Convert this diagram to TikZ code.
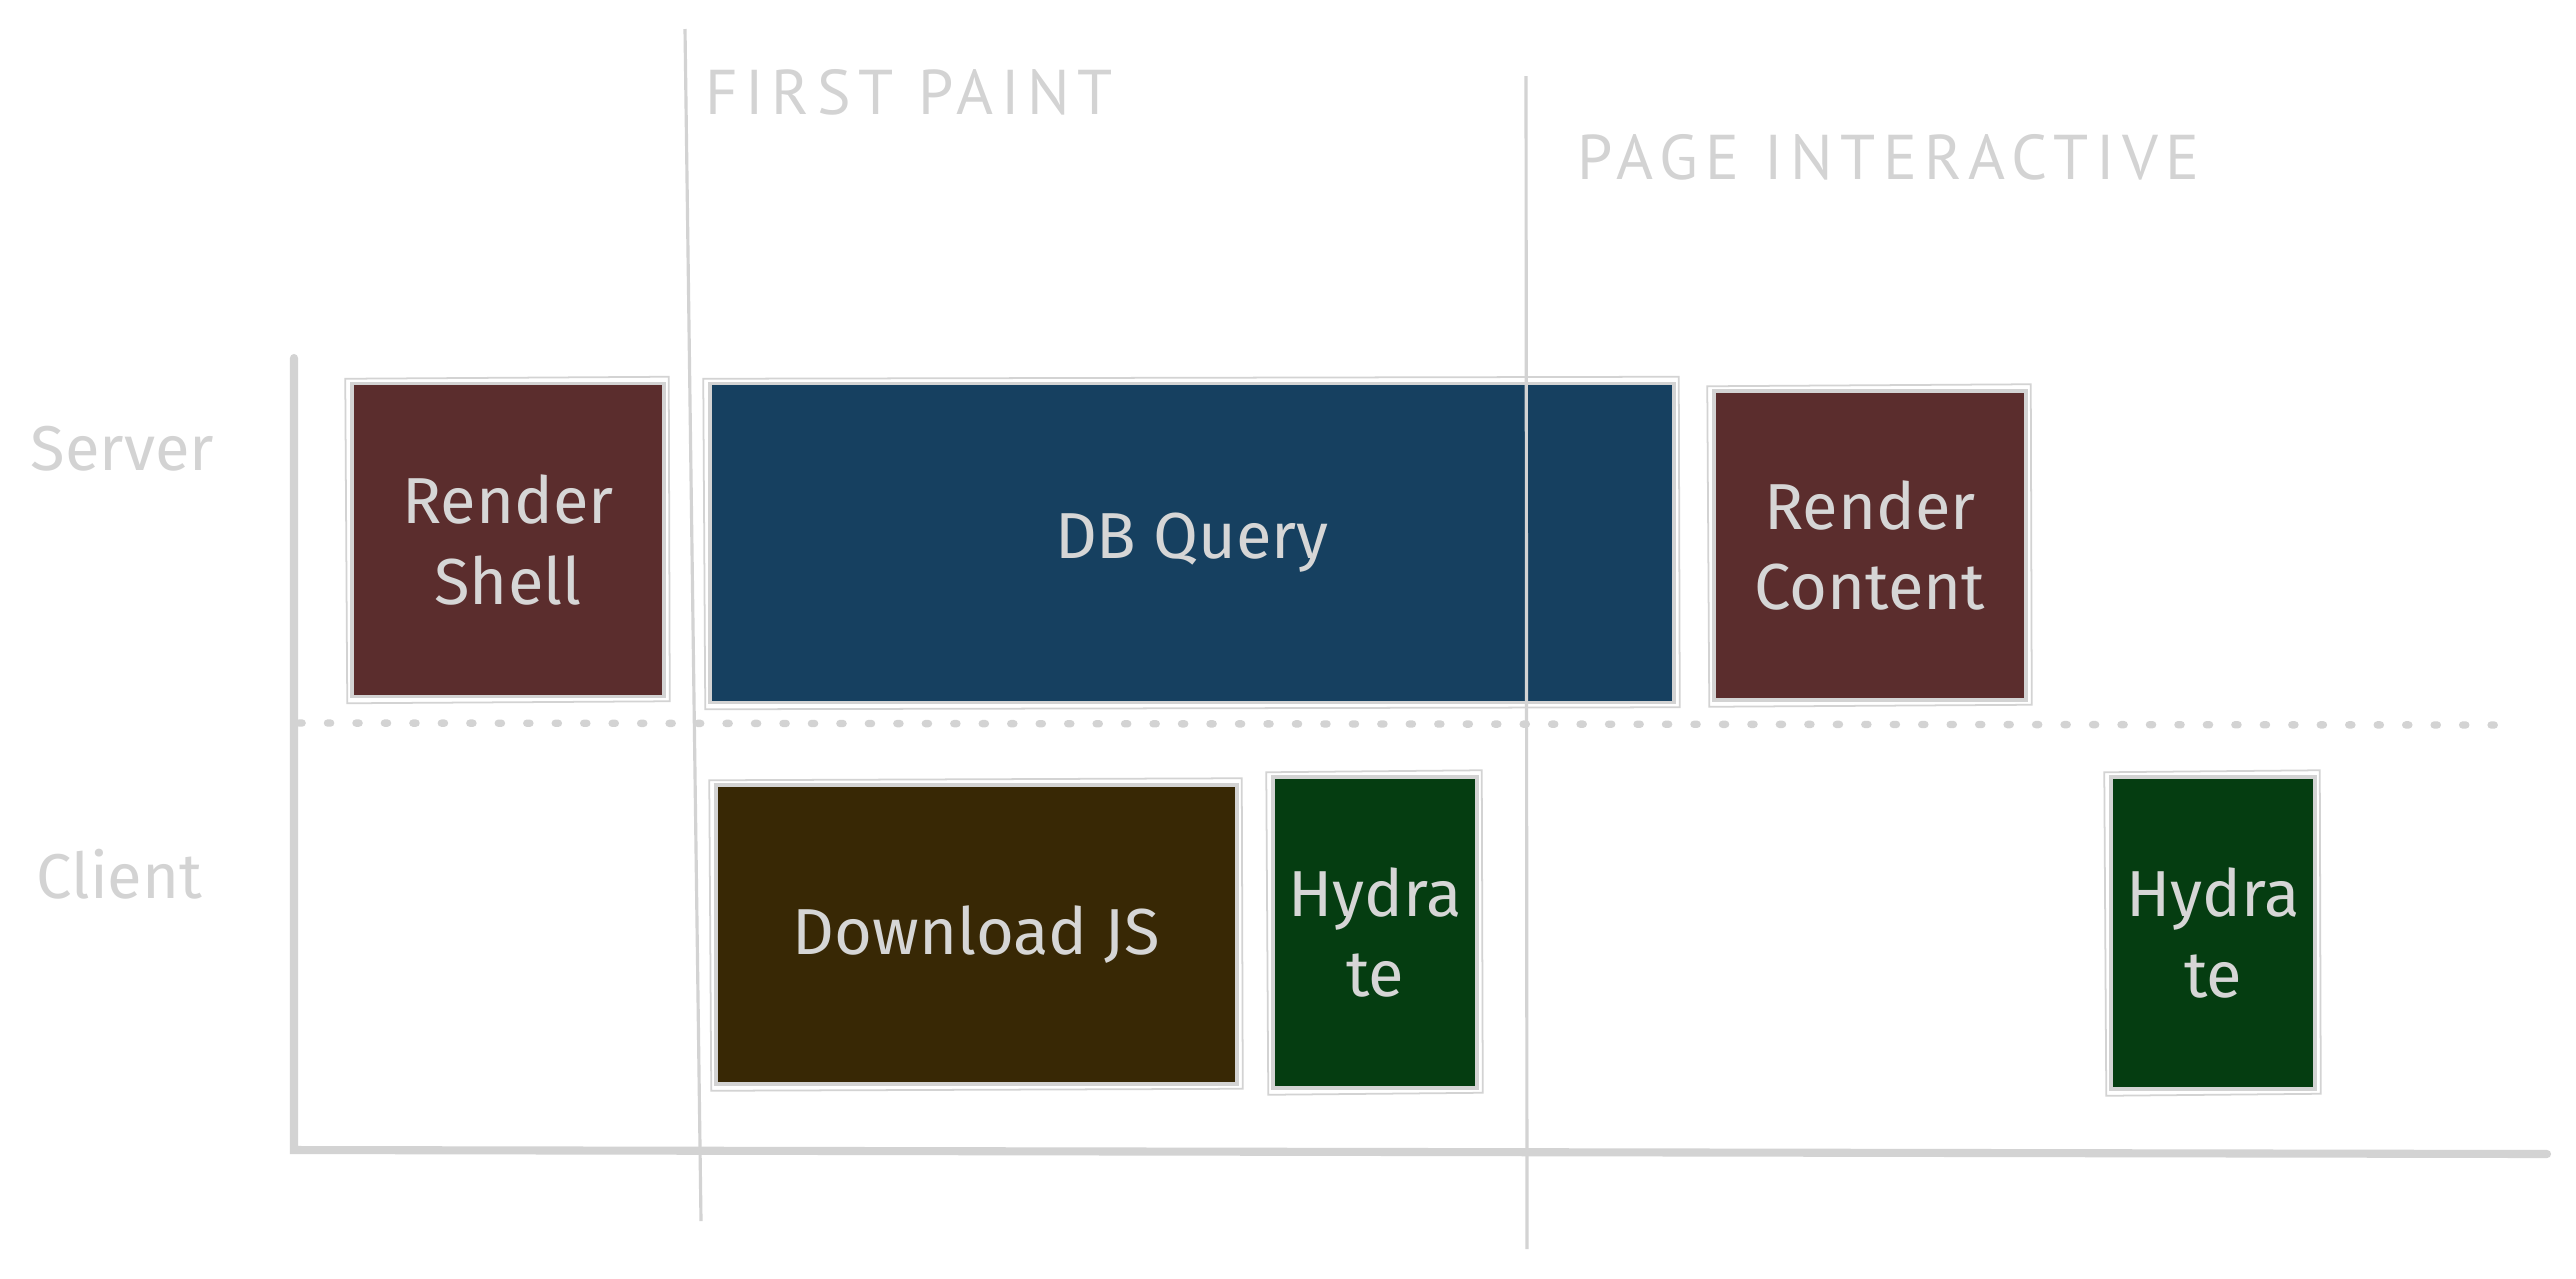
\documentclass[tikz,border=0pt]{standalone}
\usepackage{fontspec}
\setmainfont{Fira Sans}
\newfontfamily\markfont[LetterSpace=12]{PT Sans}
\definecolor{linegray}{HTML}{D3D3D3}
\definecolor{textgray}{HTML}{D6D6D6}
\definecolor{shellred}{HTML}{5B2D2D}
\definecolor{queryblue}{HTML}{164060}
\definecolor{jsbrown}{HTML}{382805}
\definecolor{hydgreen}{HTML}{053D11}
\begin{document}
\begin{tikzpicture}[x=1cm,y=-1cm,
  guide/.style={draw=linegray, line width=0.9pt},
  axisline/.style={draw=linegray, line width=2.3pt, line cap=round},
  lanesep/.style={draw=linegray, line width=2.1pt, line cap=round, dash pattern=on 0.9pt off 7.2pt},
  task/.style={draw=linegray, line width=1pt, text=textgray, align=center, inner sep=0pt,
    font=\fontsize{18.5}{23}\selectfont},
  sketch/.style={draw=linegray, line width=0.5pt},
  lane/.style={text=linegray, anchor=west, inner sep=0pt, font=\fontsize{18}{20}\selectfont},
  milestone/.style={text=linegray, anchor=west, inner sep=0pt, font=\markfont\fontsize{18}{20}\selectfont}]
\useasboundingbox (0,0) rectangle (25.76,12.78);

% axes
\coordinate (yt) at (2.94,3.58);
\coordinate (org) at (2.94,11.50);
\coordinate (xe) at (25.47,11.54);
\draw[axisline] (yt) -- (org) -- (xe);

% lane separator
\coordinate (sepl) at (2.99,7.23);
\coordinate (sepr) at (25.02,7.25);
\draw[lanesep] (sepl) -- (sepr);

% lane labels
\node[lane] (server) at (0.30,4.49) {Server};
\node[lane] (client) at (0.36,8.74) {Client};

% tasks
\node[task, fill=shellred, minimum width=3.12cm, minimum height=3.13cm] (shell) at (5.08,5.40) {Render\\Shell};
\node[task, fill=queryblue, minimum width=9.64cm, minimum height=3.19cm] (query) at (11.92,5.43) {DB Query};
\node[task, fill=shellred, minimum width=3.12cm, minimum height=3.09cm] (content) at (18.70,5.455) {Render\\Content};
\node[task, fill=jsbrown, minimum width=5.21cm, minimum height=2.99cm] (js) at (9.765,9.345) {Download JS};
\node[task, fill=hydgreen, minimum width=2.04cm, minimum height=3.11cm] (hyd1) at (13.75,9.325) {Hydra\\te};
\node[task, fill=hydgreen, minimum width=2.04cm, minimum height=3.12cm] (hyd2) at (22.13,9.33) {Hydra\\te};

% second pencil stroke on each box
\foreach \b in {shell,query,content,js,hyd1,hyd2}{
  \draw[sketch] ([xshift=-0.05cm,yshift=0.03cm]\b.north west) -- ([xshift=0.03cm,yshift=0.05cm]\b.north east)
    -- ([xshift=0.04cm,yshift=-0.03cm]\b.south east) -- ([xshift=-0.03cm,yshift=-0.05cm]\b.south west) -- cycle;
}

% milestones
\coordinate (fpt) at (6.85,0.29);
\coordinate (fpb) at (7.01,12.21);
\draw[guide] (fpt) -- (fpb);
\coordinate (pit) at (15.26,0.76);
\coordinate (pib) at (15.27,12.49);
\draw[guide] (pit) -- (pib);
\node[milestone] (fp) at (7.05,0.92) {FIRST PAINT};
\node[milestone] (pi) at (15.77,1.57) {PAGE INTERACTIVE};
\end{tikzpicture}
\end{document}
